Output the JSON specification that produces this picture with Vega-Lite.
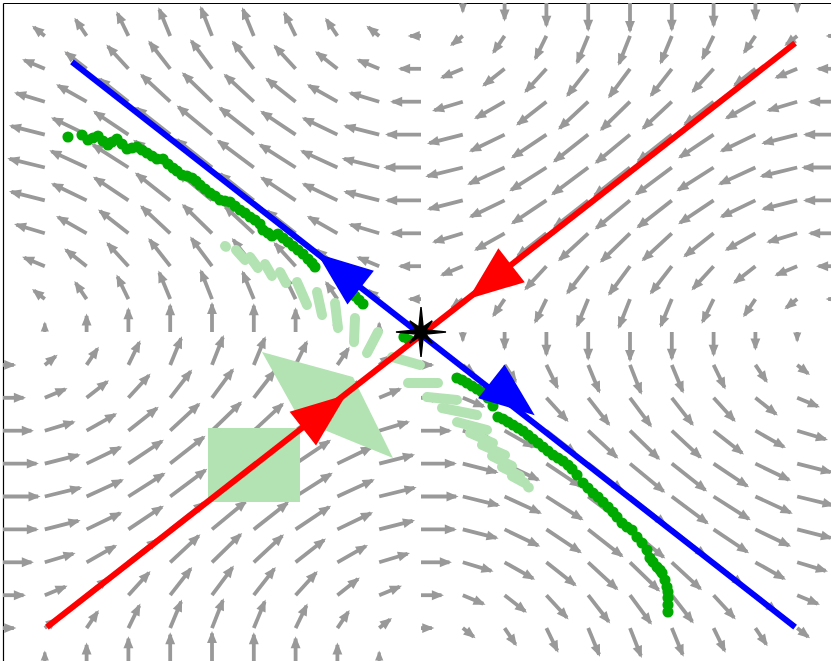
{
"$schema": "https://vega.github.io/schema/vega-lite/v6.json",
"width": 828, "height": 658,
"autosize": {"type": "none"},
"padding": {"left": 3, "top": 3, "right": 0, "bottom": 0},
"config": {"view": {"stroke": null}, "axis": {"grid": false}},
"datasets": {
"field": [
{"x":-1,"y":1,"x2":-1,"y2":1,"a":0,"l":0},{"x":-0.9,"y":1,"x2":-0.9,"y2":1.026,"a":270,"l":9.1},{"x":-0.8,"y":1,"x2":-0.8,"y2":1.049,"a":270,"l":17.4},{"x":-0.7,"y":1,"x2":-0.7,"y2":1.068,"a":270,"l":23.9},{"x":-0.6,"y":1,"x2":-0.6,"y2":1.08,"a":270,"l":28.1},{"x":-0.5,"y":1,"x2":-0.5,"y2":1.084,"a":270,"l":29.5},{"x":-0.4,"y":1,"x2":-0.4,"y2":1.08,"a":270,"l":28.1},{"x":-0.3,"y":1,"x2":-0.3,"y2":1.068,"a":270,"l":23.9},{"x":-0.2,"y":1,"x2":-0.2,"y2":1.049,"a":270,"l":17.4},{"x":-0.1,"y":1,"x2":-0.1,"y2":1.026,"a":270,"l":9.1},{"x":0,"y":1,"x2":0,"y2":1,"a":0,"l":0},{"x":0.1,"y":1,"x2":0.1,"y2":0.974,"a":90,"l":9.1},{"x":0.2,"y":1,"x2":0.2,"y2":0.951,"a":90,"l":17.4},{"x":0.3,"y":1,"x2":0.3,"y2":0.932,"a":90,"l":23.9},{"x":0.4,"y":1,"x2":0.4,"y2":0.92,"a":90,"l":28.1},{"x":0.5,"y":1,"x2":0.5,"y2":0.916,"a":90,"l":29.5},{"x":0.6,"y":1,"x2":0.6,"y2":0.92,"a":90,"l":28.1},{"x":0.7,"y":1,"x2":0.7,"y2":0.932,"a":90,"l":23.9},{"x":0.8,"y":1,"x2":0.8,"y2":0.951,"a":90,"l":17.4},{"x":0.9,"y":1,"x2":0.9,"y2":0.974,"a":90,"l":9.1},{"x":1,"y":1,"x2":1,"y2":1,"a":0,"l":0},
{"x":-1,"y":0.9,"x2":-1.026,"y2":0.9,"a":180,"l":11.6},{"x":-0.9,"y":0.9,"x2":-0.926,"y2":0.926,"a":218.2,"l":14.7},{"x":-0.8,"y":0.9,"x2":-0.826,"y2":0.949,"a":236.3,"l":20.9},{"x":-0.7,"y":0.9,"x2":-0.726,"y2":0.968,"a":244.1,"l":26.5},{"x":-0.6,"y":0.9,"x2":-0.626,"y2":0.98,"a":247.5,"l":30.3},{"x":-0.5,"y":0.9,"x2":-0.526,"y2":0.984,"a":248.5,"l":31.7},{"x":-0.4,"y":0.9,"x2":-0.426,"y2":0.98,"a":247.5,"l":30.3},{"x":-0.3,"y":0.9,"x2":-0.326,"y2":0.968,"a":244.1,"l":26.5},{"x":-0.2,"y":0.9,"x2":-0.226,"y2":0.949,"a":236.3,"l":20.9},{"x":-0.1,"y":0.9,"x2":-0.126,"y2":0.926,"a":218.2,"l":14.7},{"x":0,"y":0.9,"x2":-0.026,"y2":0.9,"a":180,"l":11.6},{"x":0.1,"y":0.9,"x2":0.074,"y2":0.874,"a":141.8,"l":14.7},{"x":0.2,"y":0.9,"x2":0.174,"y2":0.851,"a":123.7,"l":20.9},{"x":0.3,"y":0.9,"x2":0.274,"y2":0.832,"a":115.9,"l":26.5},{"x":0.4,"y":0.9,"x2":0.374,"y2":0.82,"a":112.5,"l":30.3},{"x":0.5,"y":0.9,"x2":0.474,"y2":0.816,"a":111.5,"l":31.7},{"x":0.6,"y":0.9,"x2":0.574,"y2":0.82,"a":112.5,"l":30.3},{"x":0.7,"y":0.9,"x2":0.674,"y2":0.832,"a":115.9,"l":26.5},{"x":0.8,"y":0.9,"x2":0.774,"y2":0.851,"a":123.7,"l":20.9},{"x":0.9,"y":0.9,"x2":0.874,"y2":0.874,"a":141.8,"l":14.7},{"x":1,"y":0.9,"x2":0.974,"y2":0.9,"a":180,"l":11.6},
{"x":-1,"y":0.8,"x2":-1.049,"y2":0.8,"a":180,"l":22.1},{"x":-0.9,"y":0.8,"x2":-0.949,"y2":0.826,"a":202.5,"l":23.9},{"x":-0.8,"y":0.8,"x2":-0.849,"y2":0.849,"a":218.2,"l":28.1},{"x":-0.7,"y":0.8,"x2":-0.749,"y2":0.868,"a":227.3,"l":32.5},{"x":-0.6,"y":0.8,"x2":-0.649,"y2":0.88,"a":231.8,"l":35.7},{"x":-0.5,"y":0.8,"x2":-0.549,"y2":0.884,"a":233.2,"l":36.8},{"x":-0.4,"y":0.8,"x2":-0.449,"y2":0.88,"a":231.8,"l":35.7},{"x":-0.3,"y":0.8,"x2":-0.349,"y2":0.868,"a":227.3,"l":32.5},{"x":-0.2,"y":0.8,"x2":-0.249,"y2":0.849,"a":218.2,"l":28.1},{"x":-0.1,"y":0.8,"x2":-0.149,"y2":0.826,"a":202.5,"l":23.9},{"x":0,"y":0.8,"x2":-0.049,"y2":0.8,"a":180,"l":22.1},{"x":0.1,"y":0.8,"x2":0.051,"y2":0.774,"a":157.5,"l":23.9},{"x":0.2,"y":0.8,"x2":0.151,"y2":0.751,"a":141.8,"l":28.1},{"x":0.3,"y":0.8,"x2":0.251,"y2":0.732,"a":132.7,"l":32.5},{"x":0.4,"y":0.8,"x2":0.351,"y2":0.72,"a":128.2,"l":35.7},{"x":0.5,"y":0.8,"x2":0.451,"y2":0.716,"a":126.8,"l":36.8},{"x":0.6,"y":0.8,"x2":0.551,"y2":0.72,"a":128.2,"l":35.7},{"x":0.7,"y":0.8,"x2":0.651,"y2":0.732,"a":132.7,"l":32.5},{"x":0.8,"y":0.8,"x2":0.751,"y2":0.751,"a":141.8,"l":28.1},{"x":0.9,"y":0.8,"x2":0.851,"y2":0.774,"a":157.5,"l":23.9},{"x":1,"y":0.8,"x2":0.951,"y2":0.8,"a":180,"l":22.1},
{"x":-1,"y":0.7,"x2":-1.068,"y2":0.7,"a":180,"l":30.3},{"x":-0.9,"y":0.7,"x2":-0.968,"y2":0.726,"a":196.7,"l":31.7},{"x":-0.8,"y":0.7,"x2":-0.868,"y2":0.749,"a":209.8,"l":34.9},{"x":-0.7,"y":0.7,"x2":-0.768,"y2":0.768,"a":218.2,"l":38.6},{"x":-0.6,"y":0.7,"x2":-0.668,"y2":0.78,"a":222.8,"l":41.3},{"x":-0.5,"y":0.7,"x2":-0.568,"y2":0.784,"a":224.2,"l":42.3},{"x":-0.4,"y":0.7,"x2":-0.468,"y2":0.78,"a":222.8,"l":41.3},{"x":-0.3,"y":0.7,"x2":-0.368,"y2":0.768,"a":218.2,"l":38.6},{"x":-0.2,"y":0.7,"x2":-0.268,"y2":0.749,"a":209.8,"l":34.9},{"x":-0.1,"y":0.7,"x2":-0.168,"y2":0.726,"a":196.7,"l":31.7},{"x":0,"y":0.7,"x2":-0.068,"y2":0.7,"a":180,"l":30.3},{"x":0.1,"y":0.7,"x2":0.032,"y2":0.674,"a":163.3,"l":31.7},{"x":0.2,"y":0.7,"x2":0.132,"y2":0.651,"a":150.2,"l":34.9},{"x":0.3,"y":0.7,"x2":0.232,"y2":0.632,"a":141.8,"l":38.6},{"x":0.4,"y":0.7,"x2":0.332,"y2":0.62,"a":137.2,"l":41.3},{"x":0.5,"y":0.7,"x2":0.432,"y2":0.616,"a":135.8,"l":42.3},{"x":0.6,"y":0.7,"x2":0.532,"y2":0.62,"a":137.2,"l":41.3},{"x":0.7,"y":0.7,"x2":0.632,"y2":0.632,"a":141.8,"l":38.6},{"x":0.8,"y":0.7,"x2":0.732,"y2":0.651,"a":150.2,"l":34.9},{"x":0.9,"y":0.7,"x2":0.832,"y2":0.674,"a":163.3,"l":31.7},{"x":1,"y":0.7,"x2":0.932,"y2":0.7,"a":180,"l":30.3},
{"x":-1,"y":0.6,"x2":-1.08,"y2":0.6,"a":180,"l":35.7},{"x":-0.9,"y":0.6,"x2":-0.98,"y2":0.626,"a":194.3,"l":36.8},{"x":-0.8,"y":0.6,"x2":-0.88,"y2":0.649,"a":205.9,"l":39.7},{"x":-0.7,"y":0.6,"x2":-0.78,"y2":0.668,"a":213.8,"l":42.9},{"x":-0.6,"y":0.6,"x2":-0.68,"y2":0.68,"a":218.2,"l":45.4},{"x":-0.5,"y":0.6,"x2":-0.58,"y2":0.684,"a":219.6,"l":46.3},{"x":-0.4,"y":0.6,"x2":-0.48,"y2":0.68,"a":218.2,"l":45.4},{"x":-0.3,"y":0.6,"x2":-0.38,"y2":0.668,"a":213.8,"l":42.9},{"x":-0.2,"y":0.6,"x2":-0.28,"y2":0.649,"a":205.9,"l":39.7},{"x":-0.1,"y":0.6,"x2":-0.18,"y2":0.626,"a":194.3,"l":36.8},{"x":0,"y":0.6,"x2":-0.08,"y2":0.6,"a":180,"l":35.7},{"x":0.1,"y":0.6,"x2":0.02,"y2":0.574,"a":165.7,"l":36.8},{"x":0.2,"y":0.6,"x2":0.12,"y2":0.551,"a":154.1,"l":39.7},{"x":0.3,"y":0.6,"x2":0.22,"y2":0.532,"a":146.2,"l":42.9},{"x":0.4,"y":0.6,"x2":0.32,"y2":0.52,"a":141.8,"l":45.4},{"x":0.5,"y":0.6,"x2":0.42,"y2":0.516,"a":140.4,"l":46.3},{"x":0.6,"y":0.6,"x2":0.52,"y2":0.52,"a":141.8,"l":45.4},{"x":0.7,"y":0.6,"x2":0.62,"y2":0.532,"a":146.2,"l":42.9},{"x":0.8,"y":0.6,"x2":0.72,"y2":0.551,"a":154.1,"l":39.7},{"x":0.9,"y":0.6,"x2":0.82,"y2":0.574,"a":165.7,"l":36.8},{"x":1,"y":0.6,"x2":0.92,"y2":0.6,"a":180,"l":35.7},
{"x":-1,"y":0.5,"x2":-1.084,"y2":0.5,"a":180,"l":37.5},{"x":-0.9,"y":0.5,"x2":-0.984,"y2":0.526,"a":193.7,"l":38.6},{"x":-0.8,"y":0.5,"x2":-0.884,"y2":0.549,"a":204.8,"l":41.3},{"x":-0.7,"y":0.5,"x2":-0.784,"y2":0.568,"a":212.5,"l":44.5},{"x":-0.6,"y":0.5,"x2":-0.684,"y2":0.58,"a":216.8,"l":46.8},{"x":-0.5,"y":0.5,"x2":-0.584,"y2":0.584,"a":218.2,"l":47.7},{"x":-0.4,"y":0.5,"x2":-0.484,"y2":0.58,"a":216.8,"l":46.8},{"x":-0.3,"y":0.5,"x2":-0.384,"y2":0.568,"a":212.5,"l":44.5},{"x":-0.2,"y":0.5,"x2":-0.284,"y2":0.549,"a":204.8,"l":41.3},{"x":-0.1,"y":0.5,"x2":-0.184,"y2":0.526,"a":193.7,"l":38.6},{"x":0,"y":0.5,"x2":-0.084,"y2":0.5,"a":180,"l":37.5},{"x":0.1,"y":0.5,"x2":0.016,"y2":0.474,"a":166.3,"l":38.6},{"x":0.2,"y":0.5,"x2":0.116,"y2":0.451,"a":155.2,"l":41.3},{"x":0.3,"y":0.5,"x2":0.216,"y2":0.432,"a":147.5,"l":44.5},{"x":0.4,"y":0.5,"x2":0.316,"y2":0.42,"a":143.2,"l":46.8},{"x":0.5,"y":0.5,"x2":0.416,"y2":0.416,"a":141.8,"l":47.7},{"x":0.6,"y":0.5,"x2":0.516,"y2":0.42,"a":143.2,"l":46.8},{"x":0.7,"y":0.5,"x2":0.616,"y2":0.432,"a":147.5,"l":44.5},{"x":0.8,"y":0.5,"x2":0.716,"y2":0.451,"a":155.2,"l":41.3},{"x":0.9,"y":0.5,"x2":0.816,"y2":0.474,"a":166.3,"l":38.6},{"x":1,"y":0.5,"x2":0.916,"y2":0.5,"a":180,"l":37.5},
{"x":-1,"y":0.4,"x2":-1.08,"y2":0.4,"a":180,"l":35.7},{"x":-0.9,"y":0.4,"x2":-0.98,"y2":0.426,"a":194.3,"l":36.8},{"x":-0.8,"y":0.4,"x2":-0.88,"y2":0.449,"a":205.9,"l":39.7},{"x":-0.7,"y":0.4,"x2":-0.78,"y2":0.468,"a":213.8,"l":42.9},{"x":-0.6,"y":0.4,"x2":-0.68,"y2":0.48,"a":218.2,"l":45.4},{"x":-0.5,"y":0.4,"x2":-0.58,"y2":0.484,"a":219.6,"l":46.3},{"x":-0.4,"y":0.4,"x2":-0.48,"y2":0.48,"a":218.2,"l":45.4},{"x":-0.3,"y":0.4,"x2":-0.38,"y2":0.468,"a":213.8,"l":42.9},{"x":-0.2,"y":0.4,"x2":-0.28,"y2":0.449,"a":205.9,"l":39.7},{"x":-0.1,"y":0.4,"x2":-0.18,"y2":0.426,"a":194.3,"l":36.8},{"x":0,"y":0.4,"x2":-0.08,"y2":0.4,"a":180,"l":35.7},{"x":0.1,"y":0.4,"x2":0.02,"y2":0.374,"a":165.7,"l":36.8},{"x":0.2,"y":0.4,"x2":0.12,"y2":0.351,"a":154.1,"l":39.7},{"x":0.3,"y":0.4,"x2":0.22,"y2":0.332,"a":146.2,"l":42.9},{"x":0.4,"y":0.4,"x2":0.32,"y2":0.32,"a":141.8,"l":45.4},{"x":0.5,"y":0.4,"x2":0.42,"y2":0.316,"a":140.4,"l":46.3},{"x":0.6,"y":0.4,"x2":0.52,"y2":0.32,"a":141.8,"l":45.4},{"x":0.7,"y":0.4,"x2":0.62,"y2":0.332,"a":146.2,"l":42.9},{"x":0.8,"y":0.4,"x2":0.72,"y2":0.351,"a":154.1,"l":39.7},{"x":0.9,"y":0.4,"x2":0.82,"y2":0.374,"a":165.7,"l":36.8},{"x":1,"y":0.4,"x2":0.92,"y2":0.4,"a":180,"l":35.7},
{"x":-1,"y":0.3,"x2":-1.068,"y2":0.3,"a":180,"l":30.3},{"x":-0.9,"y":0.3,"x2":-0.968,"y2":0.326,"a":196.7,"l":31.7},{"x":-0.8,"y":0.3,"x2":-0.868,"y2":0.349,"a":209.8,"l":34.9},{"x":-0.7,"y":0.3,"x2":-0.768,"y2":0.368,"a":218.2,"l":38.6},{"x":-0.6,"y":0.3,"x2":-0.668,"y2":0.38,"a":222.8,"l":41.3},{"x":-0.5,"y":0.3,"x2":-0.568,"y2":0.384,"a":224.2,"l":42.3},{"x":-0.4,"y":0.3,"x2":-0.468,"y2":0.38,"a":222.8,"l":41.3},{"x":-0.3,"y":0.3,"x2":-0.368,"y2":0.368,"a":218.2,"l":38.6},{"x":-0.2,"y":0.3,"x2":-0.268,"y2":0.349,"a":209.8,"l":34.9},{"x":-0.1,"y":0.3,"x2":-0.168,"y2":0.326,"a":196.7,"l":31.7},{"x":0,"y":0.3,"x2":-0.068,"y2":0.3,"a":180,"l":30.3},{"x":0.1,"y":0.3,"x2":0.032,"y2":0.274,"a":163.3,"l":31.7},{"x":0.2,"y":0.3,"x2":0.132,"y2":0.251,"a":150.2,"l":34.9},{"x":0.3,"y":0.3,"x2":0.232,"y2":0.232,"a":141.8,"l":38.6},{"x":0.4,"y":0.3,"x2":0.332,"y2":0.22,"a":137.2,"l":41.3},{"x":0.5,"y":0.3,"x2":0.432,"y2":0.216,"a":135.8,"l":42.3},{"x":0.6,"y":0.3,"x2":0.532,"y2":0.22,"a":137.2,"l":41.3},{"x":0.7,"y":0.3,"x2":0.632,"y2":0.232,"a":141.8,"l":38.6},{"x":0.8,"y":0.3,"x2":0.732,"y2":0.251,"a":150.2,"l":34.9},{"x":0.9,"y":0.3,"x2":0.832,"y2":0.274,"a":163.3,"l":31.7},{"x":1,"y":0.3,"x2":0.932,"y2":0.3,"a":180,"l":30.3},
{"x":-1,"y":0.2,"x2":-1.049,"y2":0.2,"a":180,"l":22.1},{"x":-0.9,"y":0.2,"x2":-0.949,"y2":0.226,"a":202.5,"l":23.9},{"x":-0.8,"y":0.2,"x2":-0.849,"y2":0.249,"a":218.2,"l":28.1},{"x":-0.7,"y":0.2,"x2":-0.749,"y2":0.268,"a":227.3,"l":32.5},{"x":-0.6,"y":0.2,"x2":-0.649,"y2":0.28,"a":231.8,"l":35.7},{"x":-0.5,"y":0.2,"x2":-0.549,"y2":0.284,"a":233.2,"l":36.8},{"x":-0.4,"y":0.2,"x2":-0.449,"y2":0.28,"a":231.8,"l":35.7},{"x":-0.3,"y":0.2,"x2":-0.349,"y2":0.268,"a":227.3,"l":32.5},{"x":-0.2,"y":0.2,"x2":-0.249,"y2":0.249,"a":218.2,"l":28.1},{"x":-0.1,"y":0.2,"x2":-0.149,"y2":0.226,"a":202.5,"l":23.9},{"x":0,"y":0.2,"x2":-0.049,"y2":0.2,"a":180,"l":22.1},{"x":0.1,"y":0.2,"x2":0.051,"y2":0.174,"a":157.5,"l":23.9},{"x":0.2,"y":0.2,"x2":0.151,"y2":0.151,"a":141.8,"l":28.1},{"x":0.3,"y":0.2,"x2":0.251,"y2":0.132,"a":132.7,"l":32.5},{"x":0.4,"y":0.2,"x2":0.351,"y2":0.12,"a":128.2,"l":35.7},{"x":0.5,"y":0.2,"x2":0.451,"y2":0.116,"a":126.8,"l":36.8},{"x":0.6,"y":0.2,"x2":0.551,"y2":0.12,"a":128.2,"l":35.7},{"x":0.7,"y":0.2,"x2":0.651,"y2":0.132,"a":132.7,"l":32.5},{"x":0.8,"y":0.2,"x2":0.751,"y2":0.151,"a":141.8,"l":28.1},{"x":0.9,"y":0.2,"x2":0.851,"y2":0.174,"a":157.5,"l":23.9},{"x":1,"y":0.2,"x2":0.951,"y2":0.2,"a":180,"l":22.1},
{"x":-1,"y":0.1,"x2":-1.026,"y2":0.1,"a":180,"l":11.6},{"x":-0.9,"y":0.1,"x2":-0.926,"y2":0.126,"a":218.2,"l":14.7},{"x":-0.8,"y":0.1,"x2":-0.826,"y2":0.149,"a":236.3,"l":20.9},{"x":-0.7,"y":0.1,"x2":-0.726,"y2":0.168,"a":244.1,"l":26.5},{"x":-0.6,"y":0.1,"x2":-0.626,"y2":0.18,"a":247.5,"l":30.3},{"x":-0.5,"y":0.1,"x2":-0.526,"y2":0.184,"a":248.5,"l":31.7},{"x":-0.4,"y":0.1,"x2":-0.426,"y2":0.18,"a":247.5,"l":30.3},{"x":-0.3,"y":0.1,"x2":-0.326,"y2":0.168,"a":244.1,"l":26.5},{"x":-0.2,"y":0.1,"x2":-0.226,"y2":0.149,"a":236.3,"l":20.9},{"x":-0.1,"y":0.1,"x2":-0.126,"y2":0.126,"a":218.2,"l":14.7},{"x":0,"y":0.1,"x2":-0.026,"y2":0.1,"a":180,"l":11.6},{"x":0.1,"y":0.1,"x2":0.074,"y2":0.074,"a":141.8,"l":14.7},{"x":0.2,"y":0.1,"x2":0.174,"y2":0.051,"a":123.7,"l":20.9},{"x":0.3,"y":0.1,"x2":0.274,"y2":0.032,"a":115.9,"l":26.5},{"x":0.4,"y":0.1,"x2":0.374,"y2":0.02,"a":112.5,"l":30.3},{"x":0.5,"y":0.1,"x2":0.474,"y2":0.016,"a":111.5,"l":31.7},{"x":0.6,"y":0.1,"x2":0.574,"y2":0.02,"a":112.5,"l":30.3},{"x":0.7,"y":0.1,"x2":0.674,"y2":0.032,"a":115.9,"l":26.5},{"x":0.8,"y":0.1,"x2":0.774,"y2":0.051,"a":123.7,"l":20.9},{"x":0.9,"y":0.1,"x2":0.874,"y2":0.074,"a":141.8,"l":14.7},{"x":1,"y":0.1,"x2":0.974,"y2":0.1,"a":180,"l":11.6},
{"x":-1,"y":0,"x2":-1,"y2":0,"a":0,"l":0},{"x":-0.9,"y":0,"x2":-0.9,"y2":0.026,"a":270,"l":9.1},{"x":-0.8,"y":0,"x2":-0.8,"y2":0.049,"a":270,"l":17.4},{"x":-0.7,"y":0,"x2":-0.7,"y2":0.068,"a":270,"l":23.9},{"x":-0.6,"y":0,"x2":-0.6,"y2":0.08,"a":270,"l":28.1},{"x":-0.5,"y":0,"x2":-0.5,"y2":0.084,"a":270,"l":29.5},{"x":-0.4,"y":0,"x2":-0.4,"y2":0.08,"a":270,"l":28.1},{"x":-0.3,"y":0,"x2":-0.3,"y2":0.068,"a":270,"l":23.9},{"x":-0.2,"y":0,"x2":-0.2,"y2":0.049,"a":270,"l":17.4},{"x":-0.1,"y":0,"x2":-0.1,"y2":0.026,"a":270,"l":9.1},{"x":0,"y":0,"x2":0,"y2":0,"a":0,"l":0},{"x":0.1,"y":0,"x2":0.1,"y2":-0.026,"a":90,"l":9.1},{"x":0.2,"y":0,"x2":0.2,"y2":-0.049,"a":90,"l":17.4},{"x":0.3,"y":0,"x2":0.3,"y2":-0.068,"a":90,"l":23.9},{"x":0.4,"y":0,"x2":0.4,"y2":-0.08,"a":90,"l":28.1},{"x":0.5,"y":0,"x2":0.5,"y2":-0.084,"a":90,"l":29.5},{"x":0.6,"y":0,"x2":0.6,"y2":-0.08,"a":90,"l":28.1},{"x":0.7,"y":0,"x2":0.7,"y2":-0.068,"a":90,"l":23.9},{"x":0.8,"y":0,"x2":0.8,"y2":-0.049,"a":90,"l":17.4},{"x":0.9,"y":0,"x2":0.9,"y2":-0.026,"a":90,"l":9.1},{"x":1,"y":0,"x2":1,"y2":0,"a":0,"l":0},
{"x":-1,"y":-0.1,"x2":-0.974,"y2":-0.1,"a":0,"l":11.6},{"x":-0.9,"y":-0.1,"x2":-0.874,"y2":-0.074,"a":321.8,"l":14.7},{"x":-0.8,"y":-0.1,"x2":-0.774,"y2":-0.051,"a":303.7,"l":20.9},{"x":-0.7,"y":-0.1,"x2":-0.674,"y2":-0.032,"a":295.9,"l":26.5},{"x":-0.6,"y":-0.1,"x2":-0.574,"y2":-0.02,"a":292.5,"l":30.3},{"x":-0.5,"y":-0.1,"x2":-0.474,"y2":-0.016,"a":291.5,"l":31.7},{"x":-0.4,"y":-0.1,"x2":-0.374,"y2":-0.02,"a":292.5,"l":30.3},{"x":-0.3,"y":-0.1,"x2":-0.274,"y2":-0.032,"a":295.9,"l":26.5},{"x":-0.2,"y":-0.1,"x2":-0.174,"y2":-0.051,"a":303.7,"l":20.9},{"x":-0.1,"y":-0.1,"x2":-0.074,"y2":-0.074,"a":321.8,"l":14.7},{"x":0,"y":-0.1,"x2":0.026,"y2":-0.1,"a":0,"l":11.6},{"x":0.1,"y":-0.1,"x2":0.126,"y2":-0.126,"a":38.2,"l":14.7},{"x":0.2,"y":-0.1,"x2":0.226,"y2":-0.149,"a":56.3,"l":20.9},{"x":0.3,"y":-0.1,"x2":0.326,"y2":-0.168,"a":64.1,"l":26.5},{"x":0.4,"y":-0.1,"x2":0.426,"y2":-0.18,"a":67.5,"l":30.3},{"x":0.5,"y":-0.1,"x2":0.526,"y2":-0.184,"a":68.5,"l":31.7},{"x":0.6,"y":-0.1,"x2":0.626,"y2":-0.18,"a":67.5,"l":30.3},{"x":0.7,"y":-0.1,"x2":0.726,"y2":-0.168,"a":64.1,"l":26.5},{"x":0.8,"y":-0.1,"x2":0.826,"y2":-0.149,"a":56.3,"l":20.9},{"x":0.9,"y":-0.1,"x2":0.926,"y2":-0.126,"a":38.2,"l":14.7},{"x":1,"y":-0.1,"x2":1.026,"y2":-0.1,"a":0,"l":11.6},
{"x":-1,"y":-0.2,"x2":-0.951,"y2":-0.2,"a":0,"l":22.1},{"x":-0.9,"y":-0.2,"x2":-0.851,"y2":-0.174,"a":337.5,"l":23.9},{"x":-0.8,"y":-0.2,"x2":-0.751,"y2":-0.151,"a":321.8,"l":28.1},{"x":-0.7,"y":-0.2,"x2":-0.651,"y2":-0.132,"a":312.7,"l":32.5},{"x":-0.6,"y":-0.2,"x2":-0.551,"y2":-0.12,"a":308.2,"l":35.7},{"x":-0.5,"y":-0.2,"x2":-0.451,"y2":-0.116,"a":306.8,"l":36.8},{"x":-0.4,"y":-0.2,"x2":-0.351,"y2":-0.12,"a":308.2,"l":35.7},{"x":-0.3,"y":-0.2,"x2":-0.251,"y2":-0.132,"a":312.7,"l":32.5},{"x":-0.2,"y":-0.2,"x2":-0.151,"y2":-0.151,"a":321.8,"l":28.1},{"x":-0.1,"y":-0.2,"x2":-0.051,"y2":-0.174,"a":337.5,"l":23.9},{"x":0,"y":-0.2,"x2":0.049,"y2":-0.2,"a":0,"l":22.1},{"x":0.1,"y":-0.2,"x2":0.149,"y2":-0.226,"a":22.5,"l":23.9},{"x":0.2,"y":-0.2,"x2":0.249,"y2":-0.249,"a":38.2,"l":28.1},{"x":0.3,"y":-0.2,"x2":0.349,"y2":-0.268,"a":47.3,"l":32.5},{"x":0.4,"y":-0.2,"x2":0.449,"y2":-0.28,"a":51.8,"l":35.7},{"x":0.5,"y":-0.2,"x2":0.549,"y2":-0.284,"a":53.2,"l":36.8},{"x":0.6,"y":-0.2,"x2":0.649,"y2":-0.28,"a":51.8,"l":35.7},{"x":0.7,"y":-0.2,"x2":0.749,"y2":-0.268,"a":47.3,"l":32.5},{"x":0.8,"y":-0.2,"x2":0.849,"y2":-0.249,"a":38.2,"l":28.1},{"x":0.9,"y":-0.2,"x2":0.949,"y2":-0.226,"a":22.5,"l":23.9},{"x":1,"y":-0.2,"x2":1.049,"y2":-0.2,"a":0,"l":22.1},
{"x":-1,"y":-0.3,"x2":-0.932,"y2":-0.3,"a":0,"l":30.3},{"x":-0.9,"y":-0.3,"x2":-0.832,"y2":-0.274,"a":343.3,"l":31.7},{"x":-0.8,"y":-0.3,"x2":-0.732,"y2":-0.251,"a":330.2,"l":34.9},{"x":-0.7,"y":-0.3,"x2":-0.632,"y2":-0.232,"a":321.8,"l":38.6},{"x":-0.6,"y":-0.3,"x2":-0.532,"y2":-0.22,"a":317.2,"l":41.3},{"x":-0.5,"y":-0.3,"x2":-0.432,"y2":-0.216,"a":315.8,"l":42.3},{"x":-0.4,"y":-0.3,"x2":-0.332,"y2":-0.22,"a":317.2,"l":41.3},{"x":-0.3,"y":-0.3,"x2":-0.232,"y2":-0.232,"a":321.8,"l":38.6},{"x":-0.2,"y":-0.3,"x2":-0.132,"y2":-0.251,"a":330.2,"l":34.9},{"x":-0.1,"y":-0.3,"x2":-0.032,"y2":-0.274,"a":343.3,"l":31.7},{"x":0,"y":-0.3,"x2":0.068,"y2":-0.3,"a":0,"l":30.3},{"x":0.1,"y":-0.3,"x2":0.168,"y2":-0.326,"a":16.7,"l":31.7},{"x":0.2,"y":-0.3,"x2":0.268,"y2":-0.349,"a":29.8,"l":34.9},{"x":0.3,"y":-0.3,"x2":0.368,"y2":-0.368,"a":38.2,"l":38.6},{"x":0.4,"y":-0.3,"x2":0.468,"y2":-0.38,"a":42.8,"l":41.3},{"x":0.5,"y":-0.3,"x2":0.568,"y2":-0.384,"a":44.2,"l":42.3},{"x":0.6,"y":-0.3,"x2":0.668,"y2":-0.38,"a":42.8,"l":41.3},{"x":0.7,"y":-0.3,"x2":0.768,"y2":-0.368,"a":38.2,"l":38.6},{"x":0.8,"y":-0.3,"x2":0.868,"y2":-0.349,"a":29.8,"l":34.9},{"x":0.9,"y":-0.3,"x2":0.968,"y2":-0.326,"a":16.7,"l":31.7},{"x":1,"y":-0.3,"x2":1.068,"y2":-0.3,"a":0,"l":30.3},
{"x":-1,"y":-0.4,"x2":-0.92,"y2":-0.4,"a":0,"l":35.7},{"x":-0.9,"y":-0.4,"x2":-0.82,"y2":-0.374,"a":345.7,"l":36.8},{"x":-0.8,"y":-0.4,"x2":-0.72,"y2":-0.351,"a":334.1,"l":39.7},{"x":-0.7,"y":-0.4,"x2":-0.62,"y2":-0.332,"a":326.2,"l":42.9},{"x":-0.6,"y":-0.4,"x2":-0.52,"y2":-0.32,"a":321.8,"l":45.4},{"x":-0.5,"y":-0.4,"x2":-0.42,"y2":-0.316,"a":320.4,"l":46.3},{"x":-0.4,"y":-0.4,"x2":-0.32,"y2":-0.32,"a":321.8,"l":45.4},{"x":-0.3,"y":-0.4,"x2":-0.22,"y2":-0.332,"a":326.2,"l":42.9},{"x":-0.2,"y":-0.4,"x2":-0.12,"y2":-0.351,"a":334.1,"l":39.7},{"x":-0.1,"y":-0.4,"x2":-0.02,"y2":-0.374,"a":345.7,"l":36.8},{"x":0,"y":-0.4,"x2":0.08,"y2":-0.4,"a":0,"l":35.7},{"x":0.1,"y":-0.4,"x2":0.18,"y2":-0.426,"a":14.3,"l":36.8},{"x":0.2,"y":-0.4,"x2":0.28,"y2":-0.449,"a":25.9,"l":39.7},{"x":0.3,"y":-0.4,"x2":0.38,"y2":-0.468,"a":33.8,"l":42.9},{"x":0.4,"y":-0.4,"x2":0.48,"y2":-0.48,"a":38.2,"l":45.4},{"x":0.5,"y":-0.4,"x2":0.58,"y2":-0.484,"a":39.6,"l":46.3},{"x":0.6,"y":-0.4,"x2":0.68,"y2":-0.48,"a":38.2,"l":45.4},{"x":0.7,"y":-0.4,"x2":0.78,"y2":-0.468,"a":33.8,"l":42.9},{"x":0.8,"y":-0.4,"x2":0.88,"y2":-0.449,"a":25.9,"l":39.7},{"x":0.9,"y":-0.4,"x2":0.98,"y2":-0.426,"a":14.3,"l":36.8},{"x":1,"y":-0.4,"x2":1.08,"y2":-0.4,"a":0,"l":35.7},
{"x":-1,"y":-0.5,"x2":-0.916,"y2":-0.5,"a":0,"l":37.5},{"x":-0.9,"y":-0.5,"x2":-0.816,"y2":-0.474,"a":346.3,"l":38.6},{"x":-0.8,"y":-0.5,"x2":-0.716,"y2":-0.451,"a":335.2,"l":41.3},{"x":-0.7,"y":-0.5,"x2":-0.616,"y2":-0.432,"a":327.5,"l":44.5},{"x":-0.6,"y":-0.5,"x2":-0.516,"y2":-0.42,"a":323.2,"l":46.8},{"x":-0.5,"y":-0.5,"x2":-0.416,"y2":-0.416,"a":321.8,"l":47.7},{"x":-0.4,"y":-0.5,"x2":-0.316,"y2":-0.42,"a":323.2,"l":46.8},{"x":-0.3,"y":-0.5,"x2":-0.216,"y2":-0.432,"a":327.5,"l":44.5},{"x":-0.2,"y":-0.5,"x2":-0.116,"y2":-0.451,"a":335.2,"l":41.3},{"x":-0.1,"y":-0.5,"x2":-0.016,"y2":-0.474,"a":346.3,"l":38.6},{"x":0,"y":-0.5,"x2":0.084,"y2":-0.5,"a":0,"l":37.5},{"x":0.1,"y":-0.5,"x2":0.184,"y2":-0.526,"a":13.7,"l":38.6},{"x":0.2,"y":-0.5,"x2":0.284,"y2":-0.549,"a":24.8,"l":41.3},{"x":0.3,"y":-0.5,"x2":0.384,"y2":-0.568,"a":32.5,"l":44.5},{"x":0.4,"y":-0.5,"x2":0.484,"y2":-0.58,"a":36.8,"l":46.8},{"x":0.5,"y":-0.5,"x2":0.584,"y2":-0.584,"a":38.2,"l":47.7},{"x":0.6,"y":-0.5,"x2":0.684,"y2":-0.58,"a":36.8,"l":46.8},{"x":0.7,"y":-0.5,"x2":0.784,"y2":-0.568,"a":32.5,"l":44.5},{"x":0.8,"y":-0.5,"x2":0.884,"y2":-0.549,"a":24.8,"l":41.3},{"x":0.9,"y":-0.5,"x2":0.984,"y2":-0.526,"a":13.7,"l":38.6},{"x":1,"y":-0.5,"x2":1.084,"y2":-0.5,"a":0,"l":37.5},
{"x":-1,"y":-0.6,"x2":-0.92,"y2":-0.6,"a":0,"l":35.7},{"x":-0.9,"y":-0.6,"x2":-0.82,"y2":-0.574,"a":345.7,"l":36.8},{"x":-0.8,"y":-0.6,"x2":-0.72,"y2":-0.551,"a":334.1,"l":39.7},{"x":-0.7,"y":-0.6,"x2":-0.62,"y2":-0.532,"a":326.2,"l":42.9},{"x":-0.6,"y":-0.6,"x2":-0.52,"y2":-0.52,"a":321.8,"l":45.4},{"x":-0.5,"y":-0.6,"x2":-0.42,"y2":-0.516,"a":320.4,"l":46.3},{"x":-0.4,"y":-0.6,"x2":-0.32,"y2":-0.52,"a":321.8,"l":45.4},{"x":-0.3,"y":-0.6,"x2":-0.22,"y2":-0.532,"a":326.2,"l":42.9},{"x":-0.2,"y":-0.6,"x2":-0.12,"y2":-0.551,"a":334.1,"l":39.7},{"x":-0.1,"y":-0.6,"x2":-0.02,"y2":-0.574,"a":345.7,"l":36.8},{"x":0,"y":-0.6,"x2":0.08,"y2":-0.6,"a":0,"l":35.7},{"x":0.1,"y":-0.6,"x2":0.18,"y2":-0.626,"a":14.3,"l":36.8},{"x":0.2,"y":-0.6,"x2":0.28,"y2":-0.649,"a":25.9,"l":39.7},{"x":0.3,"y":-0.6,"x2":0.38,"y2":-0.668,"a":33.8,"l":42.9},{"x":0.4,"y":-0.6,"x2":0.48,"y2":-0.68,"a":38.2,"l":45.4},{"x":0.5,"y":-0.6,"x2":0.58,"y2":-0.684,"a":39.6,"l":46.3},{"x":0.6,"y":-0.6,"x2":0.68,"y2":-0.68,"a":38.2,"l":45.4},{"x":0.7,"y":-0.6,"x2":0.78,"y2":-0.668,"a":33.8,"l":42.9},{"x":0.8,"y":-0.6,"x2":0.88,"y2":-0.649,"a":25.9,"l":39.7},{"x":0.9,"y":-0.6,"x2":0.98,"y2":-0.626,"a":14.3,"l":36.8},{"x":1,"y":-0.6,"x2":1.08,"y2":-0.6,"a":0,"l":35.7},
{"x":-1,"y":-0.7,"x2":-0.932,"y2":-0.7,"a":0,"l":30.3},{"x":-0.9,"y":-0.7,"x2":-0.832,"y2":-0.674,"a":343.3,"l":31.7},{"x":-0.8,"y":-0.7,"x2":-0.732,"y2":-0.651,"a":330.2,"l":34.9},{"x":-0.7,"y":-0.7,"x2":-0.632,"y2":-0.632,"a":321.8,"l":38.6},{"x":-0.6,"y":-0.7,"x2":-0.532,"y2":-0.62,"a":317.2,"l":41.3},{"x":-0.5,"y":-0.7,"x2":-0.432,"y2":-0.616,"a":315.8,"l":42.3},{"x":-0.4,"y":-0.7,"x2":-0.332,"y2":-0.62,"a":317.2,"l":41.3},{"x":-0.3,"y":-0.7,"x2":-0.232,"y2":-0.632,"a":321.8,"l":38.6},{"x":-0.2,"y":-0.7,"x2":-0.132,"y2":-0.651,"a":330.2,"l":34.9},{"x":-0.1,"y":-0.7,"x2":-0.032,"y2":-0.674,"a":343.3,"l":31.7},{"x":0,"y":-0.7,"x2":0.068,"y2":-0.7,"a":0,"l":30.3},{"x":0.1,"y":-0.7,"x2":0.168,"y2":-0.726,"a":16.7,"l":31.7},{"x":0.2,"y":-0.7,"x2":0.268,"y2":-0.749,"a":29.8,"l":34.9},{"x":0.3,"y":-0.7,"x2":0.368,"y2":-0.768,"a":38.2,"l":38.6},{"x":0.4,"y":-0.7,"x2":0.468,"y2":-0.78,"a":42.8,"l":41.3},{"x":0.5,"y":-0.7,"x2":0.568,"y2":-0.784,"a":44.2,"l":42.3},{"x":0.6,"y":-0.7,"x2":0.668,"y2":-0.78,"a":42.8,"l":41.3},{"x":0.7,"y":-0.7,"x2":0.768,"y2":-0.768,"a":38.2,"l":38.6},{"x":0.8,"y":-0.7,"x2":0.868,"y2":-0.749,"a":29.8,"l":34.9},{"x":0.9,"y":-0.7,"x2":0.968,"y2":-0.726,"a":16.7,"l":31.7},{"x":1,"y":-0.7,"x2":1.068,"y2":-0.7,"a":0,"l":30.3},
{"x":-1,"y":-0.8,"x2":-0.951,"y2":-0.8,"a":0,"l":22.1},{"x":-0.9,"y":-0.8,"x2":-0.851,"y2":-0.774,"a":337.5,"l":23.9},{"x":-0.8,"y":-0.8,"x2":-0.751,"y2":-0.751,"a":321.8,"l":28.1},{"x":-0.7,"y":-0.8,"x2":-0.651,"y2":-0.732,"a":312.7,"l":32.5},{"x":-0.6,"y":-0.8,"x2":-0.551,"y2":-0.72,"a":308.2,"l":35.7},{"x":-0.5,"y":-0.8,"x2":-0.451,"y2":-0.716,"a":306.8,"l":36.8},{"x":-0.4,"y":-0.8,"x2":-0.351,"y2":-0.72,"a":308.2,"l":35.7},{"x":-0.3,"y":-0.8,"x2":-0.251,"y2":-0.732,"a":312.7,"l":32.5},{"x":-0.2,"y":-0.8,"x2":-0.151,"y2":-0.751,"a":321.8,"l":28.1},{"x":-0.1,"y":-0.8,"x2":-0.051,"y2":-0.774,"a":337.5,"l":23.9},{"x":0,"y":-0.8,"x2":0.049,"y2":-0.8,"a":0,"l":22.1},{"x":0.1,"y":-0.8,"x2":0.149,"y2":-0.826,"a":22.5,"l":23.9},{"x":0.2,"y":-0.8,"x2":0.249,"y2":-0.849,"a":38.2,"l":28.1},{"x":0.3,"y":-0.8,"x2":0.349,"y2":-0.868,"a":47.3,"l":32.5},{"x":0.4,"y":-0.8,"x2":0.449,"y2":-0.88,"a":51.8,"l":35.7},{"x":0.5,"y":-0.8,"x2":0.549,"y2":-0.884,"a":53.2,"l":36.8},{"x":0.6,"y":-0.8,"x2":0.649,"y2":-0.88,"a":51.8,"l":35.7},{"x":0.7,"y":-0.8,"x2":0.749,"y2":-0.868,"a":47.3,"l":32.5},{"x":0.8,"y":-0.8,"x2":0.849,"y2":-0.849,"a":38.2,"l":28.1},{"x":0.9,"y":-0.8,"x2":0.949,"y2":-0.826,"a":22.5,"l":23.9},{"x":1,"y":-0.8,"x2":1.049,"y2":-0.8,"a":0,"l":22.1},
{"x":-1,"y":-0.9,"x2":-0.974,"y2":-0.9,"a":0,"l":11.6},{"x":-0.9,"y":-0.9,"x2":-0.874,"y2":-0.874,"a":321.8,"l":14.7},{"x":-0.8,"y":-0.9,"x2":-0.774,"y2":-0.851,"a":303.7,"l":20.9},{"x":-0.7,"y":-0.9,"x2":-0.674,"y2":-0.832,"a":295.9,"l":26.5},{"x":-0.6,"y":-0.9,"x2":-0.574,"y2":-0.82,"a":292.5,"l":30.3},{"x":-0.5,"y":-0.9,"x2":-0.474,"y2":-0.816,"a":291.5,"l":31.7},{"x":-0.4,"y":-0.9,"x2":-0.374,"y2":-0.82,"a":292.5,"l":30.3},{"x":-0.3,"y":-0.9,"x2":-0.274,"y2":-0.832,"a":295.9,"l":26.5},{"x":-0.2,"y":-0.9,"x2":-0.174,"y2":-0.851,"a":303.7,"l":20.9},{"x":-0.1,"y":-0.9,"x2":-0.074,"y2":-0.874,"a":321.8,"l":14.7},{"x":0,"y":-0.9,"x2":0.026,"y2":-0.9,"a":0,"l":11.6},{"x":0.1,"y":-0.9,"x2":0.126,"y2":-0.926,"a":38.2,"l":14.7},{"x":0.2,"y":-0.9,"x2":0.226,"y2":-0.949,"a":56.3,"l":20.9},{"x":0.3,"y":-0.9,"x2":0.326,"y2":-0.968,"a":64.1,"l":26.5},{"x":0.4,"y":-0.9,"x2":0.426,"y2":-0.98,"a":67.5,"l":30.3},{"x":0.5,"y":-0.9,"x2":0.526,"y2":-0.984,"a":68.5,"l":31.7},{"x":0.6,"y":-0.9,"x2":0.626,"y2":-0.98,"a":67.5,"l":30.3},{"x":0.7,"y":-0.9,"x2":0.726,"y2":-0.968,"a":64.1,"l":26.5},{"x":0.8,"y":-0.9,"x2":0.826,"y2":-0.949,"a":56.3,"l":20.9},{"x":0.9,"y":-0.9,"x2":0.926,"y2":-0.926,"a":38.2,"l":14.7},{"x":1,"y":-0.9,"x2":1.026,"y2":-0.9,"a":0,"l":11.6},
{"x":-1,"y":-1,"x2":-1,"y2":-1,"a":0,"l":0},{"x":-0.9,"y":-1,"x2":-0.9,"y2":-0.974,"a":270,"l":9.1},{"x":-0.8,"y":-1,"x2":-0.8,"y2":-0.951,"a":270,"l":17.4},{"x":-0.7,"y":-1,"x2":-0.7,"y2":-0.932,"a":270,"l":23.9},{"x":-0.6,"y":-1,"x2":-0.6,"y2":-0.92,"a":270,"l":28.1},{"x":-0.5,"y":-1,"x2":-0.5,"y2":-0.916,"a":270,"l":29.5},{"x":-0.4,"y":-1,"x2":-0.4,"y2":-0.92,"a":270,"l":28.1},{"x":-0.3,"y":-1,"x2":-0.3,"y2":-0.932,"a":270,"l":23.9},{"x":-0.2,"y":-1,"x2":-0.2,"y2":-0.951,"a":270,"l":17.4},{"x":-0.1,"y":-1,"x2":-0.1,"y2":-0.974,"a":270,"l":9.1},{"x":0,"y":-1,"x2":0,"y2":-1,"a":0,"l":0},{"x":0.1,"y":-1,"x2":0.1,"y2":-1.026,"a":90,"l":9.1},{"x":0.2,"y":-1,"x2":0.2,"y2":-1.049,"a":90,"l":17.4},{"x":0.3,"y":-1,"x2":0.3,"y2":-1.068,"a":90,"l":23.9},{"x":0.4,"y":-1,"x2":0.4,"y2":-1.08,"a":90,"l":28.1},{"x":0.5,"y":-1,"x2":0.5,"y2":-1.084,"a":90,"l":29.5},{"x":0.6,"y":-1,"x2":0.6,"y2":-1.08,"a":90,"l":28.1},{"x":0.7,"y":-1,"x2":0.7,"y2":-1.068,"a":90,"l":23.9},{"x":0.8,"y":-1,"x2":0.8,"y2":-1.049,"a":90,"l":17.4},{"x":0.9,"y":-1,"x2":0.9,"y2":-1.026,"a":90,"l":9.1},{"x":1,"y":-1,"x2":1,"y2":-1,"a":0,"l":0}
],
"dots": [
{"x":-0.8445,"y":0.5927},{"x":-0.811,"y":0.5988},{"x":-0.7967,"y":0.5836},{"x":-0.7847,"y":0.5897},{"x":-0.7727,"y":0.5957},{"x":-0.7608,"y":0.5805},{"x":-0.7488,"y":0.5684},{"x":-0.7392,"y":0.5775},{"x":-0.7273,"y":0.5866},{"x":-0.7153,"y":0.5714},{"x":-0.7033,"y":0.5562},{"x":-0.6914,"y":0.5593},{"x":-0.6794,"y":0.5623},{"x":-0.6675,"y":0.5532},{"x":-0.6555,"y":0.5441},{"x":-0.6435,"y":0.535},{"x":-0.6316,"y":0.5258},{"x":-0.6172,"y":0.5258},{"x":-0.6053,"y":0.5106},{"x":-0.5933,"y":0.4985},{"x":-0.5837,"y":0.4894},{"x":-0.5718,"y":0.4772},{"x":-0.5598,"y":0.4742},{"x":-0.5478,"y":0.4681},{"x":-0.5383,"y":0.459},{"x":-0.5287,"y":0.4468},{"x":-0.5167,"y":0.4347},{"x":-0.5048,"y":0.4225},{"x":-0.4928,"y":0.4134},{"x":-0.4809,"y":0.4012},{"x":-0.4689,"y":0.3982},{"x":-0.4569,"y":0.3951},{"x":-0.445,"y":0.383},{"x":-0.433,"y":0.3708},{"x":-0.4211,"y":0.3617},{"x":-0.4091,"y":0.3495},{"x":-0.3971,"y":0.3404},{"x":-0.3852,"y":0.3283},{"x":-0.378,"y":0.31},{"x":-0.366,"y":0.3009},{"x":-0.3565,"y":0.2918},{"x":-0.3421,"y":0.2979},{"x":-0.3301,"y":0.2857},{"x":-0.3182,"y":0.2736},{"x":-0.3062,"y":0.2614},{"x":-0.2943,"y":0.2492},{"x":-0.2823,"y":0.2371},{"x":-0.2703,"y":0.2219},{"x":-0.2608,"y":0.2097},{"x":-0.2536,"y":0.1976},
{"x":-0.1579,"y":0.1094},{"x":-0.1483,"y":0.0973},{"x":-0.1388,"y":0.0851},{"x":-0.0407,"y":-0.0152},{"x":-0.0287,"y":-0.0243},
{"x":0.0861,"y":-0.1398},{"x":0.0981,"y":-0.1459},{"x":0.11,"y":-0.155},{"x":0.122,"y":-0.1641},{"x":0.134,"y":-0.1733},{"x":0.1459,"y":-0.1824},{"x":0.1603,"y":-0.2006},{"x":0.1722,"y":-0.2249},{"x":0.1842,"y":-0.2584},{"x":0.1962,"y":-0.2644},{"x":0.2081,"y":-0.2736},{"x":0.2201,"y":-0.2827},{"x":0.2321,"y":-0.2918},{"x":0.244,"y":-0.3009},{"x":0.256,"y":-0.3131},{"x":0.2679,"y":-0.3252},{"x":0.2799,"y":-0.3374},{"x":0.2919,"y":-0.3495},{"x":0.3038,"y":-0.3617},{"x":0.3158,"y":-0.3739},{"x":0.3278,"y":-0.383},{"x":0.3397,"y":-0.3921},{"x":0.3517,"y":-0.4043},{"x":0.3612,"y":-0.4164},{"x":0.3732,"y":-0.4347},{"x":0.3876,"y":-0.459},{"x":0.3995,"y":-0.4742},{"x":0.4115,"y":-0.4894},{"x":0.4234,"y":-0.5015},{"x":0.4354,"y":-0.5167},{"x":0.4474,"y":-0.5319},{"x":0.4593,"y":-0.5471},{"x":0.4689,"y":-0.5623},{"x":0.4809,"y":-0.5805},{"x":0.4928,"y":-0.5927},{"x":0.5048,"y":-0.6018},{"x":0.5167,"y":-0.6231},{"x":0.5287,"y":-0.6413},{"x":0.5407,"y":-0.6626},{"x":0.5478,"y":-0.6869},{"x":0.555,"y":-0.6991},{"x":0.5646,"y":-0.7143},{"x":0.5718,"y":-0.7234},{"x":0.5766,"y":-0.7325},{"x":0.5837,"y":-0.7538},{"x":0.5885,"y":-0.7751},{"x":0.5909,"y":-0.7903},{"x":0.5909,"y":-0.8085},{"x":0.5909,"y":-0.8298},{"x":0.5909,"y":-0.8511}
],
"band": [
{"x":-0.4689,"y":0.2614,"x2":-0.4665,"y2":0.259},
{"x":-0.4426,"y":0.2492,"x2":-0.4211,"y2":0.2188},
{"x":-0.4091,"y":0.228,"x2":-0.39,"y2":0.1945},
{"x":-0.3732,"y":0.2067,"x2":-0.3565,"y2":0.1702},
{"x":-0.3373,"y":0.1824,"x2":-0.323,"y2":0.1489},
{"x":-0.2967,"y":0.152,"x2":-0.2727,"y2":0.0821},
{"x":-0.2488,"y":0.1216,"x2":-0.2368,"y2":0.0517},
{"x":-0.2057,"y":0.0881,"x2":-0.1986,"y2":0.0122},
{"x":-0.1579,"y":0.0426,"x2":-0.1603,"y2":-0.0304},
{"x":-0.1029,"y":0.0,"x2":-0.1292,"y2":-0.0638},
{"x":-0.0694,"y":-0.076,"x2":-0.0024,"y2":-0.1003},
{"x":-0.0311,"y":-0.155,"x2":0.0407,"y2":-0.155},
{"x":0.0144,"y":-0.1976,"x2":0.0861,"y2":-0.2067},
{"x":0.0502,"y":-0.231,"x2":0.134,"y2":-0.2523},
{"x":0.0861,"y":-0.2736,"x2":0.1579,"y2":-0.2979},
{"x":0.1172,"y":-0.307,"x2":0.1722,"y2":-0.3374},
{"x":0.1459,"y":-0.3435,"x2":0.201,"y2":-0.3739},
{"x":0.1699,"y":-0.3769,"x2":0.2177,"y2":-0.4073},
{"x":0.1938,"y":-0.4103,"x2":0.2368,"y2":-0.4377},
{"x":0.2177,"y":-0.4377,"x2":0.2488,"y2":-0.459},
{"x":0.256,"y":-0.4711,"x2":0.258,"y2":-0.473}
],
"wedge": [
{"x":-0.3804,"y":-0.0608,"y2":-0.0608},
{"x":-0.2895,"y":-0.0924,"y2":-0.2675},
{"x":-0.1627,"y":-0.1368,"y2":-0.3335},
{"x":-0.067,"y":-0.383,"y2":-0.383}
],
"lines": [
{"x":-0.895,"y":-0.897,"x2":0.895,"y2":0.878,"c":"r"},
{"x":-0.835,"y":0.821,"x2":0.895,"y2":-0.897,"c":"b"}
],
"heads": [
{"x":-0.179,"y":-0.191,"a":322,"c":"r"},
{"x":0.113,"y":0.1,"a":142,"c":"r"},
{"x":-0.248,"y":0.238,"a":218,"c":"b"},
{"x":0.272,"y":-0.253,"a":38,"c":"b"}
]
},
"layer": [
{"data": {"name": "field"},
 "mark": {"type": "rule", "color": "#999999", "strokeCap": "butt", "clip": true},
 "encoding": {
  "x": {"field": "x", "type": "quantitative", "scale": {"domain": [-1, 0.98086], "nice": false, "zero": false}, "axis": {"orient": "top", "domain": true, "domainColor": "#000000", "domainWidth": 1.2, "ticks": false, "labels": false, "title": null, "grid": false}},
  "y": {"field": "y", "type": "quantitative", "scale": {"domain": [-1, 1], "nice": false, "zero": false}, "axis": {"orient": "left", "domain": true, "domainColor": "#000000", "domainWidth": 1.2, "ticks": false, "labels": false, "title": null, "grid": false}},
  "x2": {"field": "x2"},
  "y2": {"field": "y2"},
  "strokeWidth": {"field": "l", "type": "quantitative", "scale": {"domain": [0, 11], "range": [0, 3.8], "clamp": true}, "legend": null}
 }},
{"data": {"name": "field"},
 "mark": {"type": "point", "shape": "M0.45,0L-1.75,-0.9L-1.75,0.9Z", "filled": true, "color": "#999999", "opacity": 1, "strokeWidth": 0, "clip": true},
 "encoding": {
  "x": {"field": "x2", "type": "quantitative", "scale": {"domain": [-1, 0.98086], "nice": false, "zero": false}, "axis": {"orient": "top", "domain": true, "domainColor": "#000000", "domainWidth": 1.2, "ticks": false, "labels": false, "title": null, "grid": false}},
  "y": {"field": "y2", "type": "quantitative", "scale": {"domain": [-1, 1], "nice": false, "zero": false}, "axis": {"orient": "left", "domain": true, "domainColor": "#000000", "domainWidth": 1.2, "ticks": false, "labels": false, "title": null, "grid": false}},
  "angle": {"field": "a", "type": "quantitative", "scale": null},
  "size": {"field": "l", "type": "quantitative", "scale": {"type": "pow", "exponent": 2, "domain": [0, 11], "range": [0, 121], "clamp": true}, "legend": null}
 }},
{"data": {"values": [{"x": -0.5096, "x2": -0.2895, "y": -0.2918, "y2": -0.5167}]},
 "mark": {"type": "rect", "color": "#b3e3b3", "clip": true},
 "encoding": {
  "x": {"field": "x", "type": "quantitative", "scale": {"domain": [-1, 0.98086], "nice": false, "zero": false}, "axis": {"orient": "top", "domain": true, "domainColor": "#000000", "domainWidth": 1.2, "ticks": false, "labels": false, "title": null, "grid": false}},
  "x2": {"field": "x2"},
  "y": {"field": "y", "type": "quantitative", "scale": {"domain": [-1, 1], "nice": false, "zero": false}, "axis": {"orient": "left", "domain": true, "domainColor": "#000000", "domainWidth": 1.2, "ticks": false, "labels": false, "title": null, "grid": false}},
  "y2": {"field": "y2"}
 }},
{"data": {"name": "wedge"},
 "mark": {"type": "area", "color": "#b3e3b3", "orient": "vertical", "opacity": 1, "clip": true},
 "encoding": {
  "x": {"field": "x", "type": "quantitative", "scale": {"domain": [-1, 0.98086], "nice": false, "zero": false}, "axis": {"orient": "top", "domain": true, "domainColor": "#000000", "domainWidth": 1.2, "ticks": false, "labels": false, "title": null, "grid": false}},
  "y": {"field": "y", "type": "quantitative", "scale": {"domain": [-1, 1], "nice": false, "zero": false}, "axis": {"orient": "left", "domain": true, "domainColor": "#000000", "domainWidth": 1.2, "ticks": false, "labels": false, "title": null, "grid": false}},
  "y2": {"field": "y2"}
 }},
{"data": {"name": "band"},
 "mark": {"type": "rule", "color": "#b3e3b3", "strokeWidth": 10, "strokeCap": "round", "clip": true},
 "encoding": {
  "x": {"field": "x", "type": "quantitative", "scale": {"domain": [-1, 0.98086], "nice": false, "zero": false}, "axis": {"orient": "top", "domain": true, "domainColor": "#000000", "domainWidth": 1.2, "ticks": false, "labels": false, "title": null, "grid": false}},
  "y": {"field": "y", "type": "quantitative", "scale": {"domain": [-1, 1], "nice": false, "zero": false}, "axis": {"orient": "left", "domain": true, "domainColor": "#000000", "domainWidth": 1.2, "ticks": false, "labels": false, "title": null, "grid": false}},
  "x2": {"field": "x2"},
  "y2": {"field": "y2"}
 }},
{"data": {"name": "dots"},
 "mark": {"type": "circle", "color": "#00aa00", "size": 125, "opacity": 1, "clip": true},
 "encoding": {
  "x": {"field": "x", "type": "quantitative", "scale": {"domain": [-1, 0.98086], "nice": false, "zero": false}, "axis": {"orient": "top", "domain": true, "domainColor": "#000000", "domainWidth": 1.2, "ticks": false, "labels": false, "title": null, "grid": false}},
  "y": {"field": "y", "type": "quantitative", "scale": {"domain": [-1, 1], "nice": false, "zero": false}, "axis": {"orient": "left", "domain": true, "domainColor": "#000000", "domainWidth": 1.2, "ticks": false, "labels": false, "title": null, "grid": false}}
 }},
{"data": {"name": "lines"},
 "mark": {"type": "rule", "strokeWidth": 6, "strokeCap": "butt", "clip": true},
 "encoding": {
  "x": {"field": "x", "type": "quantitative", "scale": {"domain": [-1, 0.98086], "nice": false, "zero": false}, "axis": {"orient": "top", "domain": true, "domainColor": "#000000", "domainWidth": 1.2, "ticks": false, "labels": false, "title": null, "grid": false}},
  "y": {"field": "y", "type": "quantitative", "scale": {"domain": [-1, 1], "nice": false, "zero": false}, "axis": {"orient": "left", "domain": true, "domainColor": "#000000", "domainWidth": 1.2, "ticks": false, "labels": false, "title": null, "grid": false}},
  "x2": {"field": "x2"},
  "y2": {"field": "y2"},
  "color": {"field": "c", "type": "nominal", "scale": {"domain": ["b", "r"], "range": ["#0000ff", "#ff0000"]}, "legend": null}
 }},
{"data": {"name": "heads"},
 "mark": {"type": "point", "shape": "M0,0L-2,-0.78L-2,0.78Z", "filled": true, "opacity": 1, "strokeWidth": 0, "size": 3025, "clip": true},
 "encoding": {
  "x": {"field": "x", "type": "quantitative", "scale": {"domain": [-1, 0.98086], "nice": false, "zero": false}, "axis": {"orient": "top", "domain": true, "domainColor": "#000000", "domainWidth": 1.2, "ticks": false, "labels": false, "title": null, "grid": false}},
  "y": {"field": "y", "type": "quantitative", "scale": {"domain": [-1, 1], "nice": false, "zero": false}, "axis": {"orient": "left", "domain": true, "domainColor": "#000000", "domainWidth": 1.2, "ticks": false, "labels": false, "title": null, "grid": false}},
  "angle": {"field": "a", "type": "quantitative", "scale": null},
  "color": {"field": "c", "type": "nominal", "scale": {"domain": ["b", "r"], "range": ["#0000ff", "#ff0000"]}, "legend": null}
 }},
{"data": {"values": [{"x": 0, "y": 0}]},
 "mark": {"type": "point", "shape": "M1,0L0.2,0.083L0.45,0.45L0.083,0.2L0,1L-0.083,0.2L-0.45,0.45L-0.2,0.083L-1,0L-0.2,-0.083L-0.45,-0.45L-0.083,-0.2L0,-1L0.083,-0.2L0.45,-0.45L0.2,-0.083Z", "filled": true, "color": "#000000", "stroke": "#000000", "strokeWidth": 1.5, "strokeJoin": "miter", "opacity": 1, "size": 2500},
 "encoding": {
  "x": {"field": "x", "type": "quantitative", "scale": {"domain": [-1, 0.98086], "nice": false, "zero": false}, "axis": {"orient": "top", "domain": true, "domainColor": "#000000", "domainWidth": 1.2, "ticks": false, "labels": false, "title": null, "grid": false}},
  "y": {"field": "y", "type": "quantitative", "scale": {"domain": [-1, 1], "nice": false, "zero": false}, "axis": {"orient": "left", "domain": true, "domainColor": "#000000", "domainWidth": 1.2, "ticks": false, "labels": false, "title": null, "grid": false}}
 }}
]
}
